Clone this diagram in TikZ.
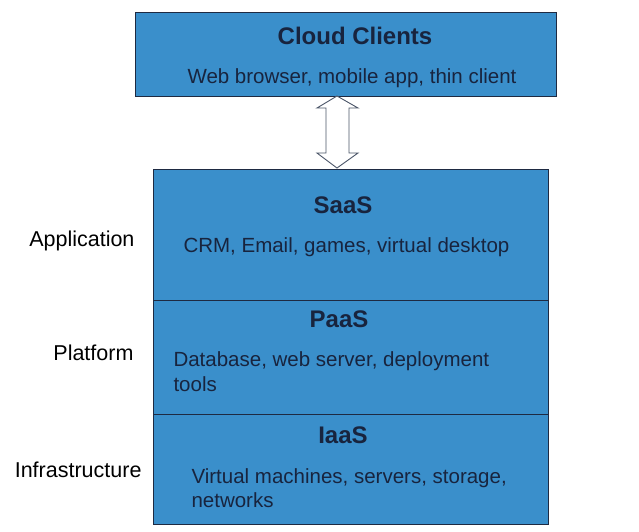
\documentclass[tikz,border=0pt]{standalone}
\usepackage{fontspec}
\setmainfont{Liberation Sans}
\definecolor{boxblue}{RGB}{58,143,203}
\definecolor{navy}{RGB}{24,36,62}
\definecolor{edge}{RGB}{30,42,66}
\begin{document}
\begin{tikzpicture}[x=1pt,y=-1pt,
  layer/.style={draw=edge,line width=1.3pt,fill=boxblue,anchor=north west,inner sep=0pt},
  ttl/.style={font=\fontsize{24}{28}\selectfont\bfseries,text=navy,anchor=base},
  body/.style={font=\fontsize{20.5}{24}\selectfont,text=navy,anchor=base west},
  side/.style={font=\fontsize{21.5}{25}\selectfont,text=black,anchor=base east}]
\useasboundingbox[fill=white] (0,0) rectangle (639,531);
% top box
\node[layer,minimum width=421pt,minimum height=84pt] (clients) at (135,12) {};
\node[ttl] (ct) at (355,44) {Cloud Clients};
\node[body,anchor=base] (cb) at (352,83) {Web browser, mobile app, thin client};
% stack
\node[layer,minimum width=395pt,minimum height=131pt] (saas) at (153,169) {};
\node[layer,minimum width=395pt,minimum height=114pt] (paas) at (153,300) {};
\node[layer,minimum width=395pt,minimum height=110pt] (iaas) at (153,414) {};
% arrow
\draw[draw=edge!80,fill=white,line width=0.9pt,line join=miter]
  (337,96) -- (358,108) -- (349,108) -- (349,153) -- (358,153) -- (337,168)
  -- (317,153) -- (326,153) -- (326,108) -- (317,108) -- cycle;
% SaaS
\node[ttl] (st) at (343,213) {SaaS};
\node[body] (sb) at (180,252) {CRM, Email, games, virtual desktop};
% PaaS
\node[ttl] (pt) at (339,327) {PaaS};
\node[body] (pb1) at (170,366) {Database, web server, deployment};
\node[body] (pb2) at (170,391) {tools};
% IaaS
\node[ttl] (it) at (343,443) {IaaS};
\node[body] (ib1) at (188,483) {Virtual machines, servers, storage,};
\node[body] (ib2) at (188,507) {networks};
% side labels
\node[side] (la) at (138,246) {Application};
\node[side] (lp) at (137,360) {Platform};
\node[side] (li) at (145,477) {Infrastructure};
\end{tikzpicture}
\end{document}
